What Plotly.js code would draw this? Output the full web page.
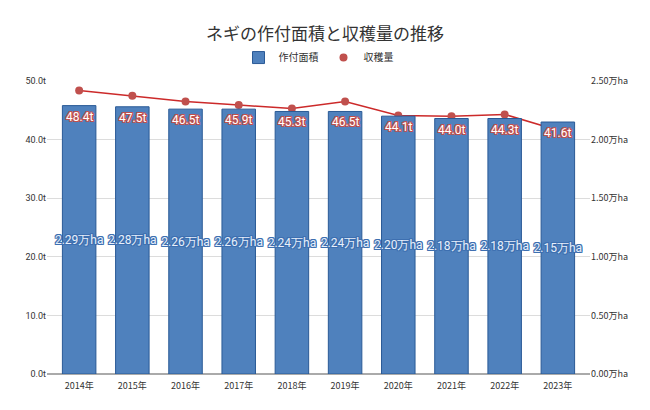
<!DOCTYPE html>
<html>
<head>
<meta charset="utf-8">
<script src="https://cdn.plot.ly/plotly-3.0.1.min.js"></script>
<style>
  html, body { margin: 0; padding: 0; background: #fff; }
  #chart { width: 650px; height: 410px; }
</style>
</head>
<body>
<div id="chart"></div>
<script>
// years on the x axis
const years = ["2014年", "2015年", "2016年", "2017年", "2018年", "2019年", "2020年", "2021年", "2022年", "2023年"];
// 作付面積 (万ha) -> right axis, bars
const area = [2.29, 2.28, 2.26, 2.26, 2.24, 2.24, 2.20, 2.18, 2.18, 2.15];
// 収穫量 (万t) -> left axis, line
const harvest = [48.4, 47.5, 46.5, 45.9, 45.3, 46.5, 44.1, 44.0, 44.3, 41.6];

const leftTicks = [0, 10, 20, 30, 40, 50];
const rightTicks = [0, 0.5, 1.0, 1.5, 2.0, 2.5];

const jpFont = "'Noto Sans CJK JP', 'Noto Sans', sans-serif";
const blue = "#4f81bd";
const red = "#c0504d";

const outline = (c) =>
  `1px 0 0 ${c}, -1px 0 0 ${c}, 0 1px 0 ${c}, 0 -1px 0 ${c}, 1px 1px 0 ${c}, -1px -1px 0 ${c}, 1px -1px 0 ${c}, -1px 1px 0 ${c}`;

const data = [
  {
    type: "bar",
    name: "作付面積",
    x: years,
    y: area,
    yaxis: "y2",
    marker: { color: blue, line: { color: "#2a5a96", width: 1 } },
    text: area.map((v) => v.toFixed(2) + "万ha"),
    textposition: "inside",
    insidetextanchor: "middle",
    textangle: 0,
    constraintext: "none",
    textfont: { family: "Roboto, sans-serif", size: 12, color: "#e8f0fb", shadow: outline("#3d6fb0") },
    hoverinfo: "none",
  },
  {
    // line for 収穫量 (legend shown by the markers trace)
    type: "scatter",
    mode: "lines",
    x: years,
    y: harvest,
    line: { color: "#cc2a2a", width: 1.5 },
    showlegend: false,
    hoverinfo: "none",
  },
  {
    type: "scatter",
    mode: "markers",
    name: "収穫量",
    x: years,
    y: harvest,
    marker: { color: red, size: 8 },
    hoverinfo: "none",
  },
];

// harvest labels sit just under the top of each bar
const annotations = years.map((yr, i) => ({
  x: yr,
  y: area[i],
  xref: "x",
  yref: "y2",
  text: harvest[i].toFixed(1) + "t",
  showarrow: false,
  yanchor: "top",
  yshift: -2,
  font: { family: "Roboto, sans-serif", size: 12, color: "#ffffff", shadow: outline("#c0504d") },
}));

const layout = {
  width: 650,
  height: 410,
  margin: { l: 47, r: 60, t: 81, b: 36 },
  paper_bgcolor: "#fff",
  plot_bgcolor: "#fff",
  font: { family: jpFont, color: "#333" },
  title: {
    text: "ネギの作付面積と収穫量の推移",
    font: { family: jpFont, size: 17, color: "#333" },
    x: 0.5,
    xanchor: "center",
    y: 0.918,
    yanchor: "middle",
  },
  showlegend: true,
  legend: {
    orientation: "h",
    x: 0.5,
    xanchor: "center",
    y: 1.08,
    yanchor: "middle",
    font: { family: jpFont, size: 10, color: "#333" },
    itemwidth: 30,
  },
  annotations: annotations,
  bargap: 0.37,
  xaxis: {
    type: "category",
    tickfont: { family: jpFont, size: 9, color: "#333" },
    ticklabelstandoff: 5,
    showgrid: false,
    showline: false,
    ticks: "",
  },
  yaxis: {
    range: [0, 50],
    tickvals: leftTicks,
    ticktext: leftTicks.map((v) => v.toFixed(1) + "t"),
    tickfont: { family: "Roboto, sans-serif", size: 9, color: "#333" },
    gridcolor: "#dcdcdc",
    zeroline: true,
    zerolinecolor: "#aaaaaa",
    zerolinewidth: 2,
    showline: false,
    ticks: "",
  },
  yaxis2: {
    overlaying: "y",
    side: "right",
    range: [0, 2.5],
    tickvals: rightTicks,
    ticktext: rightTicks.map((v) => v.toFixed(2) + "万ha"),
    tickfont: { family: jpFont, size: 9, color: "#333" },
    showgrid: false,
    zeroline: false,
    showline: false,
    ticks: "",
  },
};

Plotly.newPlot("chart", data, layout, { displayModeBar: false, staticPlot: true });
</script>
</body>
</html>
